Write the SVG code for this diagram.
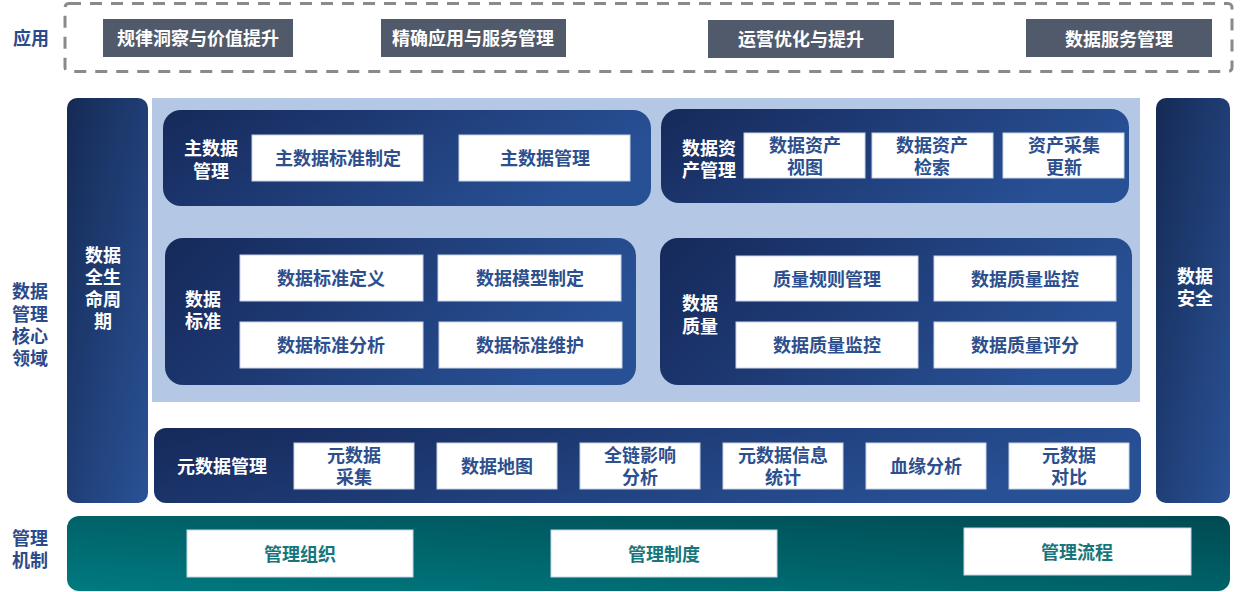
<svg xmlns="http://www.w3.org/2000/svg" width="1242" height="592" viewBox="0 0 1242 592">
<defs>
<linearGradient id="navy" x1="0" y1="0" x2="1" y2="1">
<stop offset="0" stop-color="#152a55"/>
<stop offset="1" stop-color="#2a5296"/>
</linearGradient>
<linearGradient id="navyH" x1="0" y1="0" x2="1" y2="0.3">
<stop offset="0" stop-color="#16295a"/>
<stop offset="1" stop-color="#285095"/>
</linearGradient>
<linearGradient id="teal" x1="0" y1="1" x2="1" y2="0">
<stop offset="0" stop-color="#007a80"/>
<stop offset="1" stop-color="#004a52"/>
</linearGradient>
<style>
text{font-family:"Noto Sans CJK SC","Noto Sans",sans-serif;font-weight:bold;text-anchor:middle;dominant-baseline:central}
.side{fill:#2b4a8b;font-size:18px}
.wt{fill:#ffffff;font-size:18px}
.gb{fill:#505a6b}
.wb{fill:#ffffff;stroke:#c9d4e6;stroke-width:1}
.bt{fill:#2d4f8e;font-size:18px}
.tt{fill:#16767c;font-size:18px}
.panel{fill:url(#navyH)}
</style>
</defs>
<g id="apply">
<text class="side" x="31" y="37">应用</text>
<rect x="65" y="3.5" width="1167" height="68" rx="4" fill="none" stroke="#8a8a8a" stroke-width="3" stroke-dasharray="12 9"/>
<rect class="gb" x="103" y="19" width="190" height="38"/>
<text class="wt" x="198" y="37">规律洞察与价值提升</text>
<rect class="gb" x="381" y="19" width="185" height="38"/>
<text class="wt" x="473" y="37">精确应用与服务管理</text>
<rect class="gb" x="708" y="20" width="186" height="38"/>
<text class="wt" x="801" y="38">运营优化与提升</text>
<rect class="gb" x="1026" y="19" width="186" height="38"/>
<text class="wt" x="1119" y="38">数据服务管理</text>
</g>
<g id="core-label">
<text class="side" x="30"><tspan x="30" y="290">数据</tspan><tspan x="30" y="313">管理</tspan><tspan x="30" y="335">核心</tspan><tspan x="30" y="357">领域</tspan></text>
</g>
<g id="lifecycle">
<rect x="67" y="98" width="81" height="405" rx="10" fill="url(#navy)"/>
<text class="wt" x="103"><tspan x="103" y="254">数据</tspan><tspan x="103" y="276">全生</tspan><tspan x="103" y="298">命周</tspan><tspan x="103" y="320">期</tspan></text>
</g>
<g id="panel-bg">
<rect x="152" y="98" width="988" height="304" fill="#b4c8e6"/>
</g>
<g id="master-data">
<rect class="panel" x="163" y="110" width="488" height="96" rx="18"/>
<text class="wt" x="211"><tspan x="211" y="147">主数据</tspan><tspan x="211" y="170">管理</tspan></text>
<rect class="wb" x="252" y="135" width="171" height="46"/>
<text class="bt" x="338" y="157">主数据标准制定</text>
<rect class="wb" x="459" y="135" width="171" height="46"/>
<text class="bt" x="545" y="157">主数据管理</text>
</g>
<g id="data-asset">
<rect class="panel" x="661" y="109" width="468" height="94" rx="18"/>
<text class="wt" x="709"><tspan x="709" y="147">数据资</tspan><tspan x="709" y="169">产管理</tspan></text>
<rect class="wb" x="744" y="133" width="121" height="45"/>
<text class="bt" x="805"><tspan x="805" y="144">数据资产</tspan><tspan x="805" y="166">视图</tspan></text>
<rect class="wb" x="872" y="133" width="121" height="45"/>
<text class="bt" x="932"><tspan x="932" y="144">数据资产</tspan><tspan x="932" y="166">检索</tspan></text>
<rect class="wb" x="1003" y="133" width="121" height="45"/>
<text class="bt" x="1064"><tspan x="1064" y="144">资产采集</tspan><tspan x="1064" y="166">更新</tspan></text>
</g>
<g id="data-standard">
<rect class="panel" x="165" y="238" width="471" height="147" rx="18"/>
<text class="wt" x="203"><tspan x="203" y="298">数据</tspan><tspan x="203" y="320">标准</tspan></text>
<rect class="wb" x="240" y="255" width="183" height="46"/>
<text class="bt" x="331" y="277">数据标准定义</text>
<rect class="wb" x="438" y="255" width="183" height="46"/>
<text class="bt" x="530" y="277">数据模型制定</text>
<rect class="wb" x="240" y="322" width="183" height="46"/>
<text class="bt" x="331" y="344">数据标准分析</text>
<rect class="wb" x="439" y="322" width="183" height="46"/>
<text class="bt" x="530" y="344">数据标准维护</text>
</g>
<g id="data-quality">
<rect class="panel" x="660" y="238" width="472" height="147" rx="18"/>
<text class="wt" x="700"><tspan x="700" y="302">数据</tspan><tspan x="700" y="325">质量</tspan></text>
<rect class="wb" x="736" y="256" width="182" height="45"/>
<text class="bt" x="827" y="278">质量规则管理</text>
<rect class="wb" x="934" y="256" width="182" height="45"/>
<text class="bt" x="1025" y="278">数据质量监控</text>
<rect class="wb" x="736" y="322" width="182" height="46"/>
<text class="bt" x="827" y="344">数据质量监控</text>
<rect class="wb" x="934" y="322" width="182" height="46"/>
<text class="bt" x="1025" y="344">数据质量评分</text>
</g>
<g id="metadata">
<rect class="panel" x="154" y="428" width="987" height="75" rx="12"/>
<text class="wt" x="222" y="465">元数据管理</text>
<rect class="wb" x="294" y="443" width="120" height="46"/>
<text class="bt" x="354"><tspan x="354" y="454">元数据</tspan><tspan x="354" y="476">采集</tspan></text>
<rect class="wb" x="437" y="443" width="120" height="46"/>
<text class="bt" x="497" y="465">数据地图</text>
<rect class="wb" x="580" y="443" width="120" height="46"/>
<text class="bt" x="640"><tspan x="640" y="454">全链影响</tspan><tspan x="640" y="476">分析</tspan></text>
<rect class="wb" x="723" y="443" width="120" height="46"/>
<text class="bt" x="783"><tspan x="783" y="454">元数据信息</tspan><tspan x="783" y="476">统计</tspan></text>
<rect class="wb" x="866" y="443" width="120" height="46"/>
<text class="bt" x="926" y="465">血缘分析</text>
<rect class="wb" x="1009" y="443" width="120" height="46"/>
<text class="bt" x="1069"><tspan x="1069" y="454">元数据</tspan><tspan x="1069" y="476">对比</tspan></text>
</g>
<g id="security">
<rect x="1156" y="98" width="74" height="405" rx="10" fill="url(#navy)"/>
<text class="wt" x="1195"><tspan x="1195" y="275">数据</tspan><tspan x="1195" y="297">安全</tspan></text>
</g>
<g id="mechanism">
<text class="side" x="30"><tspan x="30" y="537">管理</tspan><tspan x="30" y="559">机制</tspan></text>
<rect x="67" y="516" width="1163" height="75" rx="12" fill="url(#teal)"/>
<rect class="wb" x="187" y="530" width="226" height="47"/>
<text class="tt" x="300" y="553">管理组织</text>
<rect class="wb" x="551" y="530" width="226" height="47"/>
<text class="tt" x="664" y="553">管理制度</text>
<rect class="wb" x="964" y="528" width="227" height="47"/>
<text class="tt" x="1077" y="551">管理流程</text>
</g>
<g id="connectors"></g>
</svg>
